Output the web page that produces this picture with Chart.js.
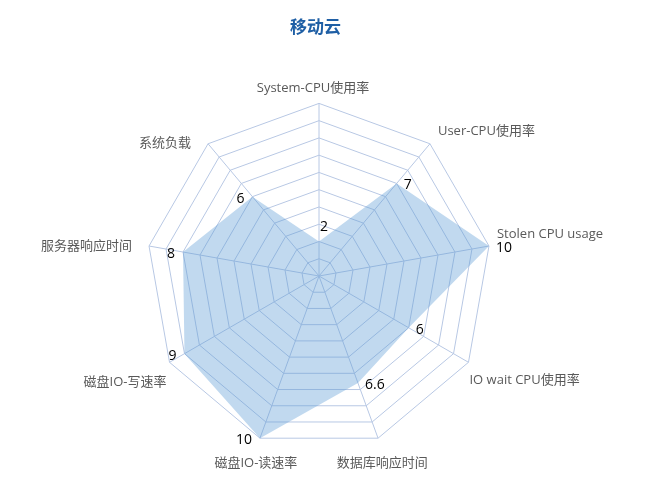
<!DOCTYPE html>
<html>
<head>
<meta charset="utf-8">
<script src="https://cdn.jsdelivr.net/npm/chart.js@4/dist/chart.umd.min.js"></script>
<style>
  html, body { margin: 0; padding: 0; background: #ffffff; }
  #wrap { width: 671px; height: 503px; }
</style>
</head>
<body>
<div id="wrap"><canvas id="c" width="671" height="503"></canvas></div>
<script>
const title = '移动云';
const categories = ['System-CPU使用率', 'User-CPU使用率', 'Stolen CPU usage', 'IO wait CPU使用率', '数据库响应时间', '磁盘IO-读速率', '磁盘IO-写速率', '服务器响应时间', '系统负载'];
const values = [2, 7, 10, 6, 6.6, 10, 9, 8, 6];
const scaleMin = 0;
const scaleMax = 10;
const scaleStep = 1;

const FONT = '"Open Sans", "Noto Sans CJK SC", sans-serif';

// Title drawn as canvas text
const titlePlugin = {
  id: 'titlePlugin',
  afterDraw(chart) {
    const ctx = chart.ctx;
    ctx.save();
    ctx.font = 'bold 17px ' + FONT;
    ctx.fillStyle = '#1F5FA5';
    ctx.textAlign = 'center';
    ctx.textBaseline = 'middle';
    ctx.fillText(title, chart.width / 2 - 20, 28);
    ctx.restore();
  }
};

// Category labels placed outside each spoke, Excel style
const categoryLabels = {
  id: 'categoryLabels',
  afterDraw(chart) {
    const ctx = chart.ctx;
    const s = chart.scales.r;
    const R = s.drawingArea;
    ctx.save();
    ctx.font = '13px ' + FONT;
    ctx.fillStyle = '#595959';
    chart.data.labels.forEach((lab, i) => {
      const v = s.getPointPosition(i, R);
      const a = s.getIndexAngle(i);
      const sn = Math.sin(a), cs = Math.cos(a);
      let x = v.x, y = v.y;
      if (Math.abs(sn) < 0.05) {
        ctx.textAlign = 'center'; ctx.textBaseline = 'bottom';
        x -= 6; y -= 9;
      } else if (Math.abs(sn) < 0.4) {
        ctx.textAlign = 'center'; ctx.textBaseline = 'middle';
        x += 12 * sn; y += 25;
      } else if (sn > 0) {
        ctx.textAlign = 'left'; ctx.textBaseline = 'middle';
        if (cs > 0) { x += 8; y -= 12; } else { x += 1; y += 18; }
      } else {
        ctx.textAlign = 'right'; ctx.textBaseline = 'middle';
        if (cs > 0) { x -= 17; y += 0; } else { x -= 3; y += 20; }
      }
      ctx.fillText(lab, x, y);
    });
    ctx.restore();
  }
};

const valueLabels = {
  id: 'valueLabels',
  afterDatasetsDraw(chart) {
    const ctx = chart.ctx;
    const meta = chart.getDatasetMeta(0);
    const r = chart.scales.r;
    ctx.save();
    ctx.font = '14px ' + FONT;
    ctx.fillStyle = '#000000';
    ctx.textBaseline = 'middle';
    meta.data.forEach((pt, i) => {
      const v = chart.data.datasets[0].data[i];
      const dx = pt.x - r.xCenter;
      let tx, ty;
      if (Math.abs(dx) < 5) {
        ctx.textAlign = 'left';
        tx = pt.x + 1; ty = pt.y - 14;
      } else if (dx > 0) {
        ctx.textAlign = 'left';
        tx = pt.x + 7; ty = pt.y + 2;
      } else {
        ctx.textAlign = 'right';
        tx = pt.x - 8; ty = pt.y + 2;
      }
      ctx.fillText(String(v), tx, ty);
    });
    ctx.restore();
  }
};

new Chart(document.getElementById('c'), {
  type: 'radar',
  data: {
    labels: categories,
    datasets: [{
      data: values,
      backgroundColor: 'rgba(91,155,213,0.38)',
      borderWidth: 0,
      pointRadius: 0,
      fill: true
    }]
  },
  options: {
    responsive: false,
    animation: false,
    layout: { padding: { left: 27, right: 55, top: 75, bottom: 37 } },
    plugins: {
      legend: { display: false },
      tooltip: { enabled: false },
      title: { display: false }
    },
    scales: {
      r: {
        min: scaleMin,
        max: scaleMax,
        ticks: { display: false, stepSize: scaleStep },
        grid: { color: '#B8C8E4', lineWidth: 1 },
        angleLines: { color: '#B8C8E4', lineWidth: 1 },
        pointLabels: {
          color: 'rgba(0,0,0,0)',
          font: { family: FONT, size: 12 },
          padding: 8
        }
      }
    }
  },
  plugins: [valueLabels, categoryLabels, titlePlugin]
});
</script>
</body>
</html>
